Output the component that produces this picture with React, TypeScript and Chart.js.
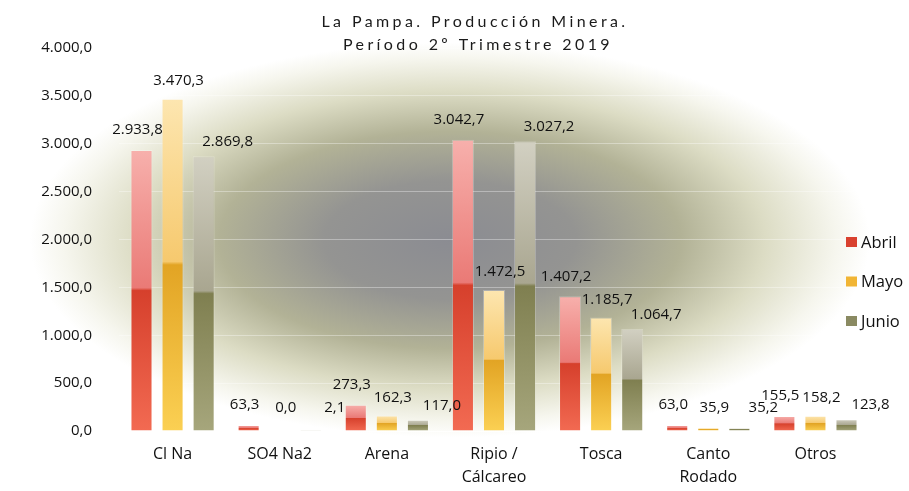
import React, { useEffect, useRef } from "react";
import { Chart, registerables } from "chart.js";

Chart.register(...registerables);

const categories: (string | string[])[] = [
  "Cl Na",
  "SO4 Na2",
  "Arena",
  ["Ripio /", "Cálcareo"],
  "Tosca",
  ["Canto", "Rodado"],
  "Otros",
];
const abril = [2933.8, 63.3, 273.3, 3042.7, 1407.2, 63.0, 155.5];
const mayo = [3470.3, 0.0, 162.3, 1472.5, 1185.7, 35.9, 158.2];
const junio = [2869.8, 2.1, 117.0, 3027.2, 1064.7, 35.2, 123.8];
const seriesNames = ["Abril", "Mayo", "Junio"];
const titleLines = ["La Pampa. Producción Minera.", "Período 2º Trimestre 2019"];

const FONT = "'Open Sans', sans-serif";
const TITLE_FONT = "Lato, 'Open Sans', sans-serif";

// top-light, mid-light, mid-dark, base-dark
const palettes = [
  ["#f7b0ac", "#ea7a76", "#d6402c", "#f26a52"],
  ["#fde6b0", "#f6c96e", "#e2a424", "#fbd053"],
  ["#d2d0c2", "#a9a690", "#7f7f50", "#a6a67c"],
];
const swatch = ["#d9412f", "#f1b535", "#8a8a62"];
const labelDx = [-4, 6, 24];
const labelDy = [-20, -18, -14];

function fmt(v: number): string {
  const fixed = v.toFixed(1);
  const [intPart, dec] = fixed.split(".");
  const withDots = intPart.replace(/\B(?=(\d{3})+(?!\d))/g, ".");
  return withDots + "," + dec;
}

function barColor(di: number) {
  return (ctx: any) => {
    const chart = ctx.chart;
    const y = chart.scales?.y;
    const p = palettes[di];
    if (!y || ctx.raw == null) return p[2];
    const top = y.getPixelForValue(ctx.raw);
    const base = y.getPixelForValue(0);
    if (!isFinite(top) || !isFinite(base) || base - top < 1) return p[2];
    const g = chart.ctx.createLinearGradient(0, top, 0, base);
    g.addColorStop(0, p[0]);
    g.addColorStop(0.49, p[1]);
    g.addColorStop(0.5, p[2]);
    g.addColorStop(1, p[3]);
    return g;
  };
}

const bgPlugin = {
  id: "bgPlugin",
  beforeDraw(chart: any) {
    const { ctx, width, height } = chart;
    ctx.save();
    ctx.fillStyle = "#ffffff";
    ctx.fillRect(0, 0, width, height);
    ctx.translate(450, 240);
    ctx.scale(1, 0.47);
    const r = 420;
    const g = ctx.createRadialGradient(0, 0, 0, 0, 0, r);
    g.addColorStop(0, "#8b8c92");
    g.addColorStop(0.3, "#949492");
    g.addColorStop(0.55, "#b2b296");
    g.addColorStop(0.75, "#dcdcc4");
    g.addColorStop(0.92, "#f6f6ee");
    g.addColorStop(1, "rgba(255,255,255,1)");
    ctx.fillStyle = g;
    ctx.fillRect(-r, -r, 2 * r, 2 * r);
    ctx.restore();
  },
};

const overlayPlugin = {
  id: "overlayPlugin",
  afterDraw(chart: any) {
    const ctx = chart.ctx;
    ctx.save();
    // title
    ctx.fillStyle = "#1a1a1a";
    ctx.font = `16px ${TITLE_FONT}`;
    (ctx as any).letterSpacing = "3.4px";
    ctx.textAlign = "center";
    ctx.textBaseline = "middle";
    ctx.fillText(titleLines[0], 475, 22);
    ctx.fillText(titleLines[1], 478, 45);
    (ctx as any).letterSpacing = "0px";

    // data labels
    ctx.font = `15px ${FONT}`;
    ctx.fillStyle = "#111111";
    chart.data.datasets.forEach((ds: any, di: number) => {
      const meta = chart.getDatasetMeta(di);
      meta.data.forEach((bar: any, i: number) => {
        const v = ds.data[i];
        const y = Math.min(bar.y + labelDy[di], 408);
        ctx.fillText(fmt(v), bar.x + labelDx[di], y);
      });
    });

    // legend
    ctx.font = `16.5px ${FONT}`;
    ctx.textAlign = "left";
    seriesNames.forEach((n, i) => {
      const cy = 242 + i * 39.5;
      ctx.fillStyle = swatch[i];
      ctx.fillRect(846, cy - 5, 11, 10);
      ctx.fillStyle = "#111111";
      ctx.fillText(n, 861, cy + 1);
    });
    ctx.restore();
  },
};

export default function App() {
  const ref = useRef<HTMLCanvasElement | null>(null);
  useEffect(() => {
    if (!ref.current) return;
    const chart = new Chart(ref.current, {
      type: "bar",
      data: {
        labels: categories as any,
        datasets: [abril, mayo, junio].map((d, di) => ({
          label: seriesNames[di],
          data: d,
          backgroundColor: barColor(di),
          borderColor: "rgba(255,255,255,0.25)",
          borderWidth: 1,
          categoryPercentage: 0.87,
          barPercentage: 0.71,
        })),
      },
      options: {
        animation: false,
        responsive: false,
        maintainAspectRatio: false,
        layout: { padding: { top: 48, right: 40, left: 0, bottom: 0 } },
        plugins: {
          legend: { display: false },
          title: { display: false },
          tooltip: { enabled: false },
        },
        scales: {
          x: {
            grid: { display: false, drawTicks: false },
            border: { display: true, color: "rgba(255,255,255,0.7)" },
            ticks: {
              color: "#111111",
              font: { family: FONT, size: 16, lineHeight: 1.45 },
              padding: 12,
              maxRotation: 0,
              autoSkip: false,
            },
            afterFit(scale: any) {
              scale.height = 60;
            },
          },
          y: {
            min: 0,
            max: 4000,
            border: { display: false },
            grid: { color: "rgba(255,255,255,0.35)", drawTicks: false },
            ticks: {
              stepSize: 500,
              color: "#111111",
              font: { family: FONT, size: 15 },
              padding: 27,
              callback: (v: any) => fmt(Number(v)),
            },
            afterFit(scale: any) {
              scale.width = 119;
            },
          },
        },
      },
      plugins: [bgPlugin, overlayPlugin],
    });
    return () => chart.destroy();
  }, []);
  return (
    <div style={{ position: "fixed", left: 0, top: 0, width: 909, height: 491 }}>
      <canvas ref={ref} width={909} height={491} style={{ width: 909, height: 491, display: "block" }} />
    </div>
  );
}
